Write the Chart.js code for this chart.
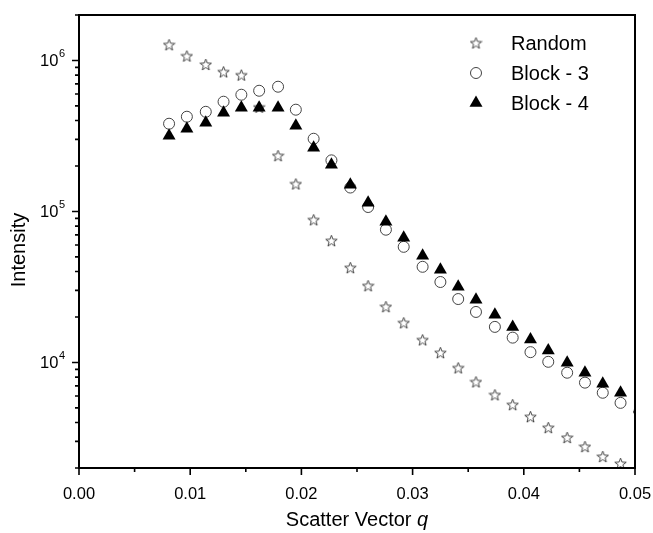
<!DOCTYPE html>
<html>
<head>
<meta charset="utf-8">
<script src="https://cdn.jsdelivr.net/npm/chart.js@4.4.1/dist/chart.umd.min.js"></script>
<style>
html, body { margin: 0; padding: 0; background: #fff; }
#wrap { width: 653px; height: 533px; }
</style>
</head>
<body>
<div id="wrap"><canvas id="chart_intensity"></canvas></div>
<script>
// scatter vector q (same grid for all three samples)
var qValues = [
    0.0081, 0.0097, 0.0114, 0.0130, 0.0146, 0.0162, 0.0179, 0.0195, 0.0211,
    0.0227, 0.0244, 0.0260, 0.0276, 0.0292, 0.0309, 0.0325, 0.0341, 0.0357,
    0.0374, 0.0390, 0.0406, 0.0422, 0.0439, 0.0455, 0.0471, 0.0487, 0.0504
];
var randomIntensity = [
    1270000, 1070000, 940000, 840000, 800000, 490000, 234000, 152000, 88000,
    64000, 42400, 32200, 23400, 18300, 14100, 11600, 9200, 7430,
    6100, 5250, 4370, 3700, 3180, 2770, 2380, 2140
];
var block3Intensity = [
    381000, 424000, 457000, 533000, 593000, 630000, 670000, 472000, 303000,
    218000, 144000, 107000, 75700, 58300, 43000, 34100, 26300, 21600,
    17200, 14600, 11700, 10100, 8550, 7350, 6300, 5400, 4720
];
var block4Intensity = [
    317000, 353000, 387000, 451000, 486000, 486000, 486000, 370000, 264000,
    204000, 150000, 114000, 85600, 67000, 50900, 41100, 31700, 26000,
    20700, 17200, 14200, 12000, 9960, 8550, 7230, 6300, 4940
];
var seriesNames = ['Random', 'Block - 3', 'Block - 4'];
var xTickLabels = ['0.00', '0.01', '0.02', '0.03', '0.04', '0.05'];
// y labels: base and superscript exponent, keyed by decade
var yTickLabels = { 4: ['10', '4'], 5: ['10', '5'], 6: ['10', '6'] };
var yTickValues = [
    2000, 3000, 4000, 5000, 6000, 7000, 8000, 9000,
    10000, 20000, 30000, 40000, 50000, 60000, 70000, 80000, 90000,
    100000, 200000, 300000, 400000, 500000, 600000, 700000, 800000, 900000,
    1000000, 2000000
];

function toPoints(values) {
    return values.map(function(v, i) { return { x: qValues[i], y: v }; });
}

// open five-pointed star marker
function makeStar() {
    var c = document.createElement('canvas');
    c.width = 13; c.height = 13;
    var g = c.getContext('2d');
    g.strokeStyle = '#333';
    g.lineWidth = 0.9;
    g.beginPath();
    for (var k = 0; k < 10; k++) {
        var r = k % 2 ? 2.5 : 6;
        var a = -Math.PI / 2 + k * Math.PI / 5;
        var px = 6.5 + r * Math.cos(a), py = 7 + r * Math.sin(a);
        if (k) g.lineTo(px, py); else g.moveTo(px, py);
    }
    g.closePath();
    g.stroke();
    return c;
}
var starImg = makeStar();

var FONT = "'Liberation Sans', Arial, sans-serif";
Chart.defaults.font.family = FONT;
Chart.defaults.color = '#000';

function noPadX(scale) { scale.height = 65; scale.paddingLeft = 0; scale.paddingRight = 0; }
function noPadY(scale) { scale.width = 79; scale.paddingTop = 0; scale.paddingBottom = 0; }

var chart_intensity = new Chart(document.getElementById('chart_intensity'), {
    type: 'scatter',
    data: {
        datasets: [
            {
                label: seriesNames[0],
                data: toPoints(randomIntensity),
                pointStyle: starImg,
                pointRadius: 6,
                order: 3,
                clip: 0
            },
            {
                label: seriesNames[1],
                data: toPoints(block3Intensity),
                pointStyle: 'circle',
                pointRadius: 5.5,
                borderWidth: 1,
                borderColor: '#444',
                backgroundColor: 'rgba(0,0,0,0)',
                order: 2,
                clip: 0
            },
            {
                label: seriesNames[2],
                data: toPoints(block4Intensity),
                pointStyle: 'triangle',
                pointRadius: 7.5,
                borderWidth: 0,
                borderColor: '#000',
                backgroundColor: '#000',
                order: 1,
                clip: 0
            }
        ]
    },
    options: {
        animation: false,
        responsive: true,
        maintainAspectRatio: false,
        layout: { padding: { top: 15, right: 18, bottom: 0, left: 0 } },
        plugins: {
            legend: { display: false },
            tooltip: { enabled: false }
        },
        scales: {
            x: {
                type: 'linear',
                min: 0,
                max: 0.05,
                grid: { display: false },
                border: { display: false },
                ticks: {
                    stepSize: 0.005,
                    autoSkip: false,
                    maxRotation: 0,
                    padding: 9,
                    font: { size: 16.5 },
                    callback: function(value, index) {
                        return index % 2 === 0 ? xTickLabels[index / 2] : '';
                    }
                },
                afterFit: noPadX
            },
            y: {
                type: 'logarithmic',
                min: 2000,
                max: 2000000,
                grid: { display: false },
                border: { display: false },
                afterBuildTicks: function(scale) {
                    scale.ticks = yTickValues.map(function(v) { return { value: v }; });
                },
                ticks: {
                    display: false,
                    autoSkip: false,
                    callback: function(value) {
                        var e = Math.log10(value);
                        return Math.abs(e - Math.round(e)) < 1e-9 && yTickLabels[Math.round(e)] ? String(Math.round(e)) : '';
                    }
                },
                afterFit: noPadY
            }
        }
    },
    plugins: [{
        id: 'frameTicksLegend',
        beforeDraw: function(chart) {
            var ctx = chart.ctx;
            ctx.save();
            ctx.fillStyle = 'white';
            ctx.fillRect(0, 0, chart.width, chart.height);
            ctx.restore();
        },
        afterDatasetsDraw: function(chart) {
            var ctx = chart.ctx;
            var a = chart.chartArea;
            var xs = chart.scales.x, ys = chart.scales.y;
            ctx.save();
            ctx.strokeStyle = '#000';
            // frame
            ctx.lineWidth = 2;
            ctx.strokeRect(a.left, a.top, a.right - a.left, a.bottom - a.top);
            // tick marks, longer for labelled ones
            ctx.lineWidth = 1.6;
            ctx.beginPath();
            xs.ticks.forEach(function(t) {
                var px = xs.getPixelForValue(t.value);
                var len = t.label ? 7 : 4;
                ctx.moveTo(px, a.bottom);
                ctx.lineTo(px, a.bottom + len);
            });
            ys.ticks.forEach(function(t) {
                var py = ys.getPixelForValue(t.value);
                var len = t.label ? 7 : 4;
                ctx.moveTo(a.left, py);
                ctx.lineTo(a.left - len, py);
            });
            ctx.stroke();

            // y tick labels 10^n with a raised exponent
            ctx.fillStyle = '#000';
            ys.ticks.forEach(function(t) {
                if (!t.label) return;
                var lab = yTickLabels[+t.label];
                var py = ys.getPixelForValue(t.value);
                ctx.font = "11px " + FONT;
                var we = ctx.measureText(lab[1]).width;
                ctx.textAlign = 'right';
                ctx.textBaseline = 'alphabetic';
                ctx.fillText(lab[1], 65, py - 3);
                ctx.font = "16.5px " + FONT;
                ctx.fillText(lab[0], 65 - we - 0.5, py + 6);
            });

            // axis titles
            ctx.textBaseline = 'middle';
            var mid = (a.left + a.right) / 2;
            var part1 = 'Scatter Vector ';
            ctx.font = "20px " + FONT;
            var w1 = ctx.measureText(part1).width;
            ctx.font = "italic 20px " + FONT;
            var w2 = ctx.measureText('q').width;
            var x0 = mid - (w1 + w2) / 2;
            ctx.textAlign = 'left';
            ctx.font = "20px " + FONT;
            ctx.fillText(part1, x0, 520);
            ctx.font = "italic 20px " + FONT;
            ctx.fillText('q', x0 + w1, 520);

            ctx.save();
            ctx.translate(19, 250);
            ctx.rotate(-Math.PI / 2);
            ctx.textAlign = 'center';
            ctx.font = "20px " + FONT;
            ctx.fillText('Intensity', 0, 0);
            ctx.restore();

            // legend
            var rowsY = [43, 73, 103];
            chart.data.datasets.forEach(function(ds, i) {
                ctx.fillStyle = ds.backgroundColor || '#000';
                ctx.strokeStyle = ds.borderColor || '#000';
                ctx.lineWidth = ds.borderWidth || 0;
                Chart.helpers.drawPoint(ctx, {
                    pointStyle: ds.pointStyle,
                    radius: ds.pointRadius,
                    borderWidth: ds.borderWidth || 0,
                    rotation: 0
                }, 476, rowsY[i]);
                ctx.fillStyle = '#000';
                ctx.textAlign = 'left';
                ctx.textBaseline = 'middle';
                ctx.font = "20px " + FONT;
                ctx.fillText(ds.label, 511, rowsY[i] + 1);
            });
            ctx.restore();
        }
    }]
});
</script>
</body>
</html>
